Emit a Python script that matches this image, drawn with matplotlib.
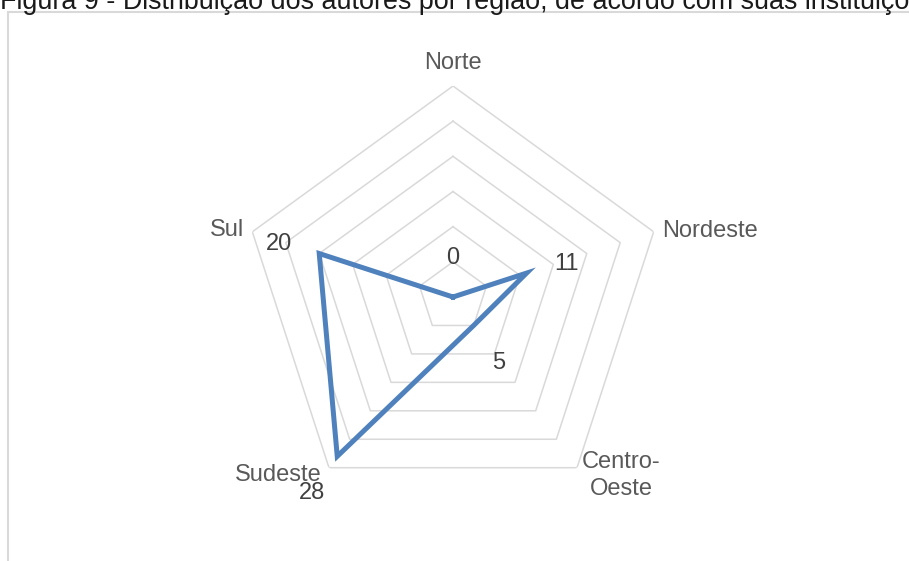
import numpy as np
import matplotlib
matplotlib.use("Agg")
import matplotlib.pyplot as plt
from matplotlib.patches import Rectangle

plt.rcParams['font.family'] = ['Liberation Sans', 'DejaVu Sans']

# dados
titulo = "Figura 9 - Distribuição dos autores por região, de acordo com suas instituições"
regioes = ["Norte", "Nordeste", "Centro-\nOeste", "Sudeste", "Sul"]
autores = [0, 11, 5, 28, 20]
aneis = [5, 10, 15, 20, 25, 30]

# deslocamentos (pixels) dos rótulos, como no Excel
desl_regiao = [(0, 17), (8, -5), (5, -27), (-7, -13), (-8, -4)]
alin_regiao = ["center", "left", "left", "right", "right"]
desl_valor = [(0, 42), (40, 12), (25, -35), (-25, -34), (-40, 12)]

W, H = 909, 561
fig = plt.figure(figsize=(W / 100, H / 100), dpi=100)

# borda da área do gráfico (só aparecem topo e esquerda)
fig.patches.append(Rectangle((8 / W, -0.1), 1.2, (H - 11.5) / H + 0.1,
                             transform=fig.transFigure, fill=False,
                             edgecolor="#d9d9d9", lw=1.5))

fig.text(0.0, (H - 9) / H, titulo, fontsize=19.4, color="#1a1a1a",
         ha="left", va="baseline")

cx, cy, r = 453, H - 297, 211
ax = fig.add_axes([(cx - r) / W, (cy - r) / H, 2 * r / W, 2 * r / H],
                  projection="polar")
ax.set_theta_offset(np.pi / 2)
ax.set_theta_direction(-1)
ax.set_ylim(0, 30)
ax.grid(False)
ax.spines["polar"].set_visible(False)
ax.set_xticks([])
ax.set_yticks([])
ax.patch.set_alpha(0)

n = len(regioes)
ang = np.linspace(0, 2 * np.pi, n, endpoint=False)
ang_f = np.append(ang, ang[0])

for a in aneis:
    ax.plot(ang_f, [a] * (n + 1), color="#d9d9d9", lw=1.1, zorder=1)

vals = np.append(autores, autores[0])
ax.plot(ang_f, vals, color="#4f81bd", lw=3.6, solid_joinstyle="miter",
        zorder=3, clip_on=False)

for i in range(n):
    ax.annotate(regioes[i], xy=(ang[i], aneis[-1]), xytext=desl_regiao[i],
                textcoords="offset pixels", ha=alin_regiao[i], va="baseline",
                multialignment="center", linespacing=1.3, fontsize=17,
                color="#595959", annotation_clip=False)
    ax.annotate(str(autores[i]), xy=(ang[i], autores[i]), xytext=desl_valor[i],
                textcoords="offset pixels", ha="center", va="center_baseline",
                fontsize=17, color="#404040", annotation_clip=False)

fig.savefig("out.png", dpi=100)
